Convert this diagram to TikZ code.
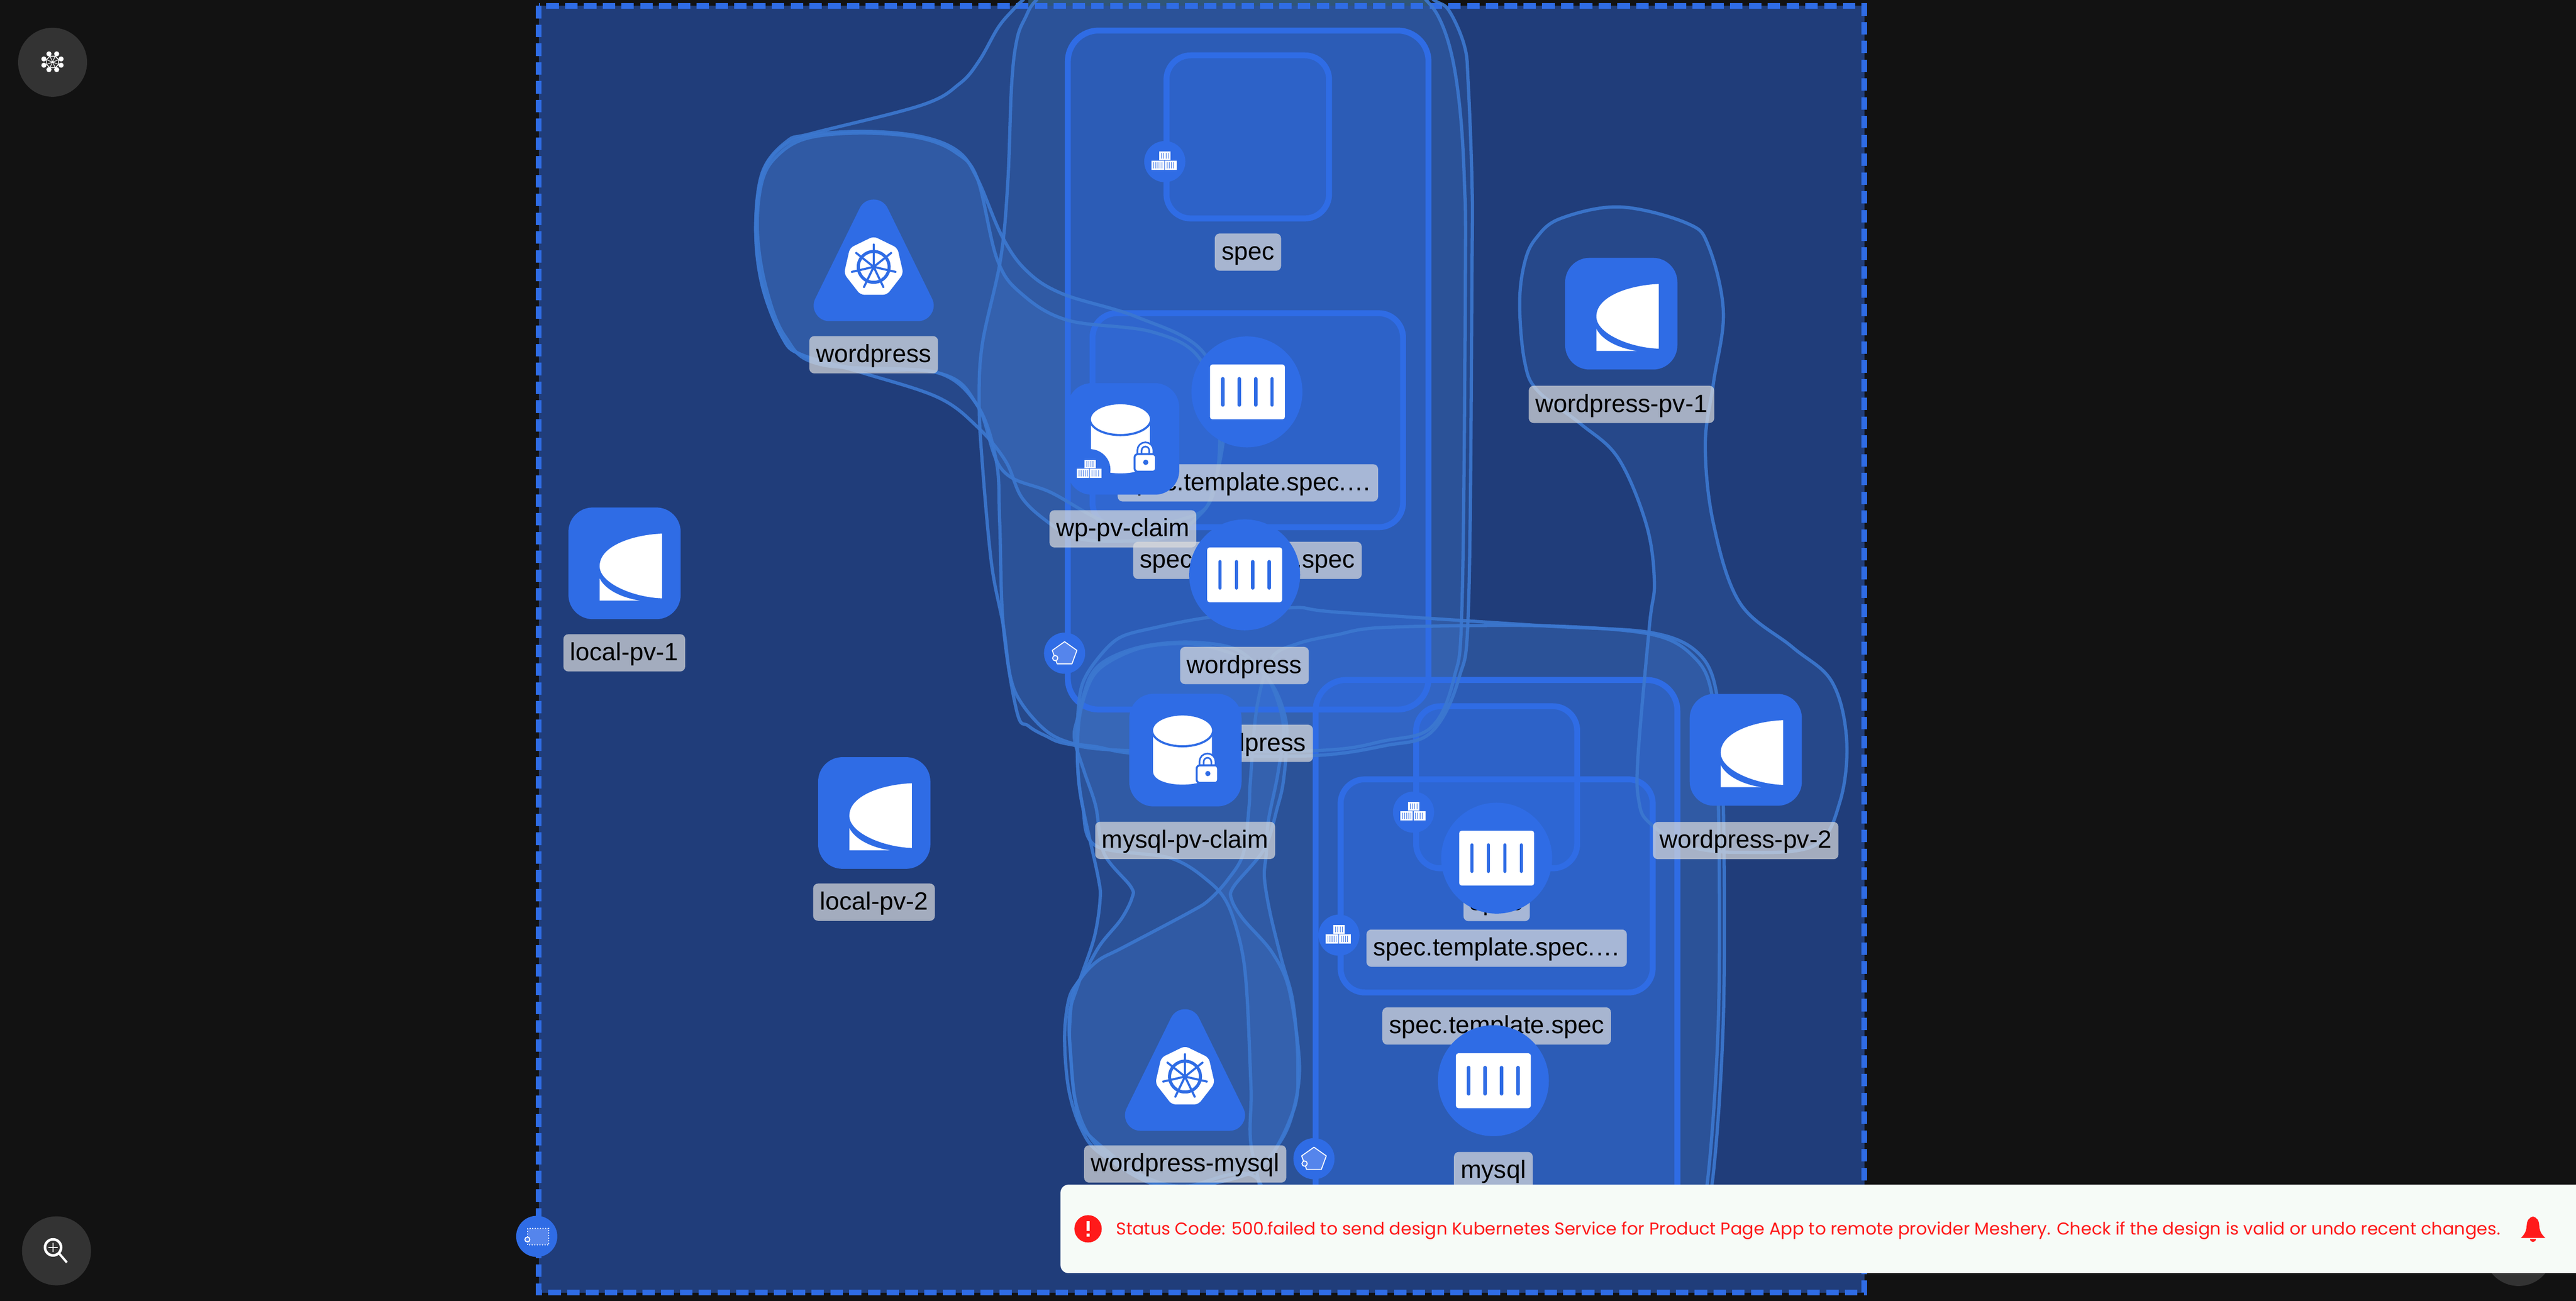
\documentclass[tikz,border=0pt]{standalone}
\usepackage{fontspec}
\setmainfont{Liberation Sans}
\newfontfamily\toastfont{Poppins}
\definecolor{pagebg}{HTML}{121212}
\definecolor{canvasbg}{HTML}{203D7A}
\definecolor{kblue}{HTML}{2F6CE5}
\definecolor{hullfill}{HTML}{5090F0}
\definecolor{hullline}{HTML}{3C78D0}
\definecolor{lblfill}{HTML}{DCDCDC}
\definecolor{btn}{HTML}{333333}
\definecolor{toast}{HTML}{F6FBF7}
\definecolor{alert}{HTML}{FF1A1A}
\definecolor{pentfill}{HTML}{5585EC}
\definecolor{topstrip}{HTML}{26424F}
\newcommand\hullBig{plot[smooth cycle,tension=.6] coordinates {(624,11)(619,24)(615.8,51)(613.4,111.6)(609,158)(598,209)(596,244)(597.8,280.6)(603.5,343)(610.7,381)(615,412)(622,428.5)(636.4,444.7)(650.7,452)(668,454.8)(688,458.5)(730,460)(801,460)(843,454)(871,446)(888,413)(894,365)(896,163)(896,111.6)(893.7,51)(891.4,28)(882,6.5)(872.8,0)(850,-14)(650,-14)(630.9,0)}}
\newcommand\hullTop{plot[smooth cycle,tension=.6] coordinates {(622.7,0)(617,5.6)(607.6,16.7)(596,37)(584,51)(561,64)(495,81)(479,86)(464,105)(460,140)(464,174)(476,205)(488,216)(525,225)(571,227)(595,247)(606.4,280.6)(608.5,318)(610.7,381)(619,433.5)(626,442)(636.4,448)(650,453)(688,457)(801,457)(843,451)(871,443)(885,413)(890,365)(892,163)(891.4,111.6)(889,70)(884.4,37)(877.4,14)(868,0)(850,-14)(640,-14)}}
\newcommand\hullWp{plot[smooth cycle,tension=.6] coordinates {(525,80)(560,83)(583,92)(595,109)(610,144)(625,165)(647,179)(692,193)(732,214)(745,256)(738,299.4)(729.4,314.4)(710.8,327)(675,329.5)(653.6,327)(638,318)(622,303)(612,280.6)(595,260)(571,242)(525,227)(488,216)(476,205)(464,174)(460,140)(463,110)(472,93)(490,83)}}
\newcommand\hullWpB{plot[smooth cycle,tension=.6] coordinates {(525,81)(560,84)(582,93)(595,109)(607,158)(622,179)(650,195)(701,202)(730,218)(742,256)(738,302)(720,316)(680,320)(640,300)(610,286)(595,247)(571,227)(500,222)(478,205)(466,174)(461,140)(464,110)(474,94)(492,84)}}
\newcommand\hullPvc{plot[smooth cycle,tension=.55] coordinates {(654,450)(660,470)(667,491)(672,519.6)(688.2,539.7)(689,546.8)(682.4,559.7)(669.6,575.4)(659,594)(651,607)(648,631)(650.4,662.7)(658,687)(670.7,703)(710,723)(762,714)(779,695.6)(787,677)(791,648.4)(784.7,602.6)(774.2,579.7)(756.8,559.7)(749.8,548)(751,539.7)(769.6,516.8)(777.7,491)(781,477)(783,456)(782.4,437)(773.8,416)(753.8,396)(725,391)(696.5,393.4)(675,401)(663.6,412)(656,437)}}
\newcommand\hullPvcB{plot[smooth cycle,tension=.55] coordinates {(659,491)(668.4,534)(669.6,548)(666,571)(656.8,598)(651,617)(651.6,641)(654.5,670)(662.6,691)(677.7,705.6)(715,722)(765,712)(787,677)(790,648)(787,610)(780,584)(773,555.4)(769.6,534)(770.8,519.6)(772,500)(778,470)(781,440)(770,410)(750,398)(725,392)(696.5,394)(675,403)(664,414)(657,437)(656,467)}}
\newcommand\hullDepA{plot[smooth cycle,tension=.55] coordinates {(656,437)(659,416)(669,400)(682,388)(703.7,382)(735,376)(786.7,370)(813.6,372.7)(939,381)(1004,385)(1033,397)(1045,423)(1049,491)(1049,620)(1042,722)(1030,765)(900,772)(790,765)(763.2,705.6)(761.5,662.7)(759,605.5)(755.6,577)(747.5,551)(735.9,536.8)(712.6,522.5)(667,515)(659,491)(656,467)}}
\newcommand\hullDepB{plot[smooth cycle,tension=.55] coordinates {(651,627)(653.3,604)(660.3,592.6)(669.6,584)(683.5,576.9)(724.2,555.4)(735.9,548)(747.5,535.4)(756.8,519.6)(760.3,491)(761,477)(765,431)(773.8,401)(789.5,392)(813.6,386.5)(843,382)(939,381)(1004,386)(1030,399)(1042,423)(1046,491)(1046,620)(1039,722)(1028,762)(800,768)(763,716)(710,723)(662.6,691)(654.5,670)(651.6,641)}}
\newcommand\hullPv{plot[smooth cycle,tension=.6] coordinates {(997,461)(1004,381)(1007,354)(1002,319)(985,279)(962,258)(936,238)(928,220)(925,185)(928,160)(935,145)(950,133)(986,126)(1027,136)(1040,150)(1049,190)(1043,233)(1038,271)(1043,319)(1059,367)(1091,394)(1115,415)(1124,450)(1120,488)(1104,515)(1059,519)(1027,515)(1004,501)(997.6,488)}}
\tikzset{
  hullfillstyle/.style={fill=hullfill,fill opacity=.14},
  hullstroke/.style={draw=hullline,line width=2pt,draw opacity=.9},
  container/.style={draw=kblue,line width=3.65pt,fill=kblue,fill opacity=.4,draw opacity=1},
  lbl/.style={fill=lblfill,fill opacity=.7,text opacity=1,text=black,rounded corners=3pt,font=\fontsize{15.4}{18}\selectfont,inner xsep=4.2pt,inner ysep=3.75pt,text height=12.5pt,text depth=3pt,anchor=center},
  tile/.style={draw=none,fill=kblue,rounded corners=15pt},
  badge/.style={fill=kblue,draw=none},
  pvicon/.pic={
    \fill[white] (22.7,-18.1) .. controls (6,-17.5) and (-15.3,-11) .. (-15.3,1.7) .. controls (-15.3,12) and (5,20.7) .. (22.7,21.3) -- cycle;
    \fill[white] (-15.3,9.2) .. controls (-12,16) and (-2,21) .. (9.3,22.7) -- (-15.3,22.7) -- cycle;
  },
  dbicon/.pic={
    \fill[white] (-19.6,-12) -- (-19.6,13) .. controls (-19.6,23.7) and (16.2,23.7) .. (16.2,13) -- (16.2,-12) -- cycle;
    \fill[white,draw=kblue,line width=1.3pt] (-1.7,-12) ellipse (18.6 and 9.7);
    \draw[kblue,line width=3.6pt] (17.1,10) -- (17.1,7) arc (0:-180:3.6) -- (9.9,10);
    \draw[white,line width=1.5pt] (17.1,10) -- (17.1,7) arc (0:-180:3.6) -- (9.9,10);
    \filldraw[fill=white,draw=kblue,line width=1.2pt,rounded corners=2pt] (6.9,9.3) rectangle (19.9,20);
    \fill[kblue] (13.7,14.3) circle (1.6);
  },
  podicon/.pic={
    \fill[white,rounded corners=1.5pt] (-22.8,-16.7) rectangle (22.8,16.7);
    \foreach \bx in {-15,-5,5,15} \draw[kblue,line width=2.1pt,line cap=round] (\bx,-8) -- (\bx,8);
  },
  boxesicon/.pic={
    \fill[white] (-3.4,-6.1) rectangle (3.5,-.8);
    \fill[white] (-8.1,-.5) rectangle (-.4,5);
    \fill[white] (0,-.5) rectangle (7.2,5);
    \foreach \bx in {-1.9,-.6,.7,2} \draw[kblue,line width=.3pt] (\bx,-5.2) -- (\bx,-1.7);
    \foreach \bx in {-6.7,-5.4,-4.1,-2.8,-1.6,1.3,2.6,3.9,5.2} \draw[kblue,line width=.3pt] (\bx,.3) -- (\bx,4.2);
  },
  penticon/.pic={
    \filldraw[fill=pentfill,draw=white,line width=.6pt,line join=round] (0,-7) -- (7.5,-1.7) -- (4.5,6.5) -- (-4.5,6.5) -- (-7.5,-1.7) -- cycle;
    \filldraw[fill=pentfill,draw=white,line width=.6pt] (-5.7,3) circle (1.6);
  },
  triangletile/.pic={
    \filldraw[kblue,line width=19.3pt,line join=round] (0,-31.5) -- (27,23.5) -- (-27,23.5) -- cycle;
    \fill[white,rounded corners=2.5pt] (0,-18.6) -- (14.46,-11.53) -- (18.04,4.12) -- (8.03,17) -- (-8.03,17) -- (-18.04,4.12) -- (-14.46,-11.53) -- cycle;
    \draw[kblue,line width=1.9pt] (0,0) circle (9.4);
    \fill[kblue] (0,0) circle (1.7);
    \foreach \ang in {0,51.43,102.86,154.29,205.71,257.14,308.57}
      \draw[kblue,line width=1.3pt,line cap=round] (0,0) -- ({13.6*sin(\ang)},{-13.6*cos(\ang)});
  },
}
\begin{document}
\begin{tikzpicture}[x=0.035644cm,y=-0.035644cm]
\useasboundingbox (0,0) rectangle (1568,792);
\clip (0,0) rectangle (1568,792);
\fill[pagebg] (0,0) rectangle (1568,792);
% canvas
\fill[canvasbg] (328,3.6) rectangle (1134.8,787);
\fill[topstrip] (626,0) rectangle (870,3.6);
% hull fills
\fill[hullfillstyle] \hullBig;
\fill[hullfillstyle] \hullTop;
\fill[hullfillstyle] \hullWp;
\fill[hullfillstyle] \hullWpB;
\fill[hullfillstyle] \hullPvc;
\fill[hullfillstyle] \hullPvcB;
\fill[hullfillstyle] \hullDepA;
\fill[hullfillstyle] \hullDepB;
\fill[hullfillstyle] \hullPv;
\draw[draw=kblue,line width=3.5pt,dash pattern=on 7.7pt off 3.9pt] (328,3.6) rectangle (1134.8,787);
% containers
\draw[container,rounded corners=19pt] (650,18.6) rectangle (869.5,432);
\draw[container,rounded corners=15pt] (710,33.7) rectangle (809,133);
\draw[container,rounded corners=15pt] (665,190.7) rectangle (854,321);
\draw[container,rounded corners=19pt] (800.8,414) rectangle (1021,765);
\draw[container,rounded corners=15pt] (862,430) rectangle (960,528.7);
\draw[container,rounded corners=15pt] (816,474.5) rectangle (1006,604.3);
% hull outlines
\draw[hullstroke] \hullBig;
\draw[hullstroke] \hullTop;
\draw[hullstroke] \hullWp;
\draw[hullstroke] \hullWpB;
\draw[hullstroke] \hullPvc;
\draw[hullstroke] \hullPvcB;
\draw[hullstroke] \hullDepA;
\draw[hullstroke] \hullDepB;
\draw[hullstroke] \hullPv;
% labels under the icons
\node[lbl] (lblspecA) at (759.6,153.5) {spec};
\node[lbl] (lbltmplA) at (759.6,294) {spec.template.spec.…};
\node[lbl] (lbltspecA) at (759.3,341.2) {spec.template.spec};
\node[lbl] (lblpodA) at (757.5,405.2) {wordpress};
\node[lbl] (lbldepA) at (760,452.6) {wordpress};
\node[lbl] (lblspecB) at (911,549.5) {spec};
\node[lbl] (lbltmplB) at (911,577.3) {spec.template.spec.…};
\node[lbl] (lbltspecB) at (911,624.7) {spec.template.spec};
\node[lbl] (lblpodB) at (909,712.7) {mysql};
% pods
\node[circle,fill=kblue,minimum size=68.5pt,inner sep=0pt] (podA) at (759,238.6) {};
\pic at (759.3,238.6) {podicon};
\node[circle,fill=kblue,minimum size=68.5pt,inner sep=0pt] (podB) at (757.6,350) {};
\pic at (757.6,350) {podicon};
\node[circle,fill=kblue,minimum size=68.5pt,inner sep=0pt] (podC) at (911,522.5) {};
\pic at (911,522.5) {podicon};
\node[circle,fill=kblue,minimum size=68.5pt,inner sep=0pt] (podD) at (909,658) {};
\pic at (909,658) {podicon};
% claims
\draw[tile] (649.7,233.3) rectangle (717.8,301.2);
\pic at (683.7,267.2) {dbicon};
\draw[tile] (687.4,422.4) rectangle (755.7,491);
\pic at (721.5,456.7) {dbicon};
% volumes
\draw[tile] (346,309) rectangle (414.3,377);
\pic at (380.3,343) {pvicon};
\draw[tile] (498,461) rectangle (566.3,529);
\pic at (532.3,495) {pvicon};
\draw[tile] (952.7,157) rectangle (1021,225);
\pic at (987,191) {pvicon};
\draw[tile] (1028.5,422.5) rectangle (1096.8,490.6);
\pic at (1062.7,456.6) {pvicon};
% namespaces
\pic at (531.8,162.5) {triangletile};
\pic at (721.3,655.5) {triangletile};
% node labels
\node[lbl] (lblwp) at (531.8,216) {wordpress};
\node[lbl] (lblclaimA) at (683.5,322) {wp-pv-claim};
\node[lbl] (lblclaimB) at (721.4,511.7) {mysql-pv-claim};
\node[lbl] (lbllocalA) at (380,397.5) {local-pv-1};
\node[lbl] (lbllocalB) at (532,549.3) {local-pv-2};
\node[lbl] (lblpvA) at (987,246.2) {wordpress-pv-1};
\node[lbl] (lblpvB) at (1062.6,511.8) {wordpress-pv-2};
\node[lbl] (lblwm) at (721.4,708.7) {wordpress-mysql};
% badges
\foreach \nm/\bx/\by in {badgeA/709/98.4,badgeB/663.4/286,badgeC/860.4/494.5,badgeD/815/569.4}{
  \node[badge,circle,minimum size=25.4pt,inner sep=0pt] (\nm) at (\bx,\by) {};
  \pic at (\bx,\by) {boxesicon};
}
\foreach \nm/\bx/\by in {badgeE/648/397.7,badgeF/799.8/705.5}{
  \node[badge,circle,minimum size=25.4pt,inner sep=0pt] (\nm) at (\bx,\by) {};
  \pic at (\bx,\by) {penticon};
}
\node[badge,circle,minimum size=25.4pt,inner sep=0pt] (badgeNs) at (326.7,752.8) {};
\draw[white,line width=.6pt,densely dotted,fill=pentfill] (321,747.9) rectangle (334,758);
\filldraw[fill=pentfill,draw=white,line width=.6pt] (321,754.7) circle (1.5);
% controls
\node[circle,fill=btn,minimum size=42.6pt,inner sep=0pt] (btnTop) at (32,37.9) {};
\foreach \dx/\dy in {-2.2/-4.9,2.5/-4.9,-5.3/-1.8,5.2/-1.8,-5.3/2,5.2/2,-2.2/4.7,2.5/4.7}
  \fill[white] (32+\dx,37.7+\dy) circle (1.55);
\draw[white,line width=.45pt] (28.3,36.4) -- (30.4,34.2) -- (33.6,34.2) -- (35.7,36.4) -- (35.7,39.2) -- (33.6,41.2) -- (30.4,41.2) -- (28.3,39.2) -- cycle;
\draw[white,line width=.35pt] (28.3,36.4) -- (35.7,39.2) (28.3,39.2) -- (35.7,36.4) (30.4,34.2) -- (33.6,41.2) (33.6,34.2) -- (30.4,41.2);
\node[circle,fill=btn,minimum size=42.6pt,inner sep=0pt] (btnZoom) at (34.4,761.6) {};
\draw[white,line width=1.6pt] (32.3,759.5) circle (4.9);
\draw[white,line width=.6pt] (32.3,756.6) -- (32.3,762.4) (29.6,759.5) -- (35,759.5);
\draw[white,line width=1.4pt] (36.2,763.4) -- (40.7,768.7);
\node[circle,fill=btn,minimum size=42.6pt,inner sep=0pt] (btnHidden) at (1533,762) {};
% toast
\fill[toast,rounded corners=5pt] (645.5,721.3) rectangle (1580,775.2);
\node[circle,fill=alert,minimum size=16.9pt,inner sep=0pt] (toastIcon) at (662.3,748.2) {};
\fill[white] (661.4,743.5) rectangle (663.2,749.6);
\fill[white] (661.4,751) rectangle (663.2,752.9);
\node[anchor=west,inner sep=0pt,text=alert] (toastText) at (679.2,749.2) {\resizebox{30.03cm}{!}{\toastfont Status Code: 500.failed to send design Kubernetes Service for Product Page App to remote provider Meshery. Check if the design is valid or undo recent changes.}};
\fill[alert] (1541.8,740.7) .. controls (1539.3,741.5) and (1538.2,743) .. (1538,746) .. controls (1537.8,749.5) and (1536.8,751.5) .. (1534.4,753.8) -- (1549.4,753.8) .. controls (1546.8,751.5) and (1545.8,749.5) .. (1545.6,746) .. controls (1545.4,743) and (1544.3,741.5) .. (1541.8,740.7) -- cycle;
\fill[alert] (1540,754.4) .. controls (1540.2,756.8) and (1543.4,756.8) .. (1543.6,754.4) -- cycle;
\end{tikzpicture}
\end{document}
